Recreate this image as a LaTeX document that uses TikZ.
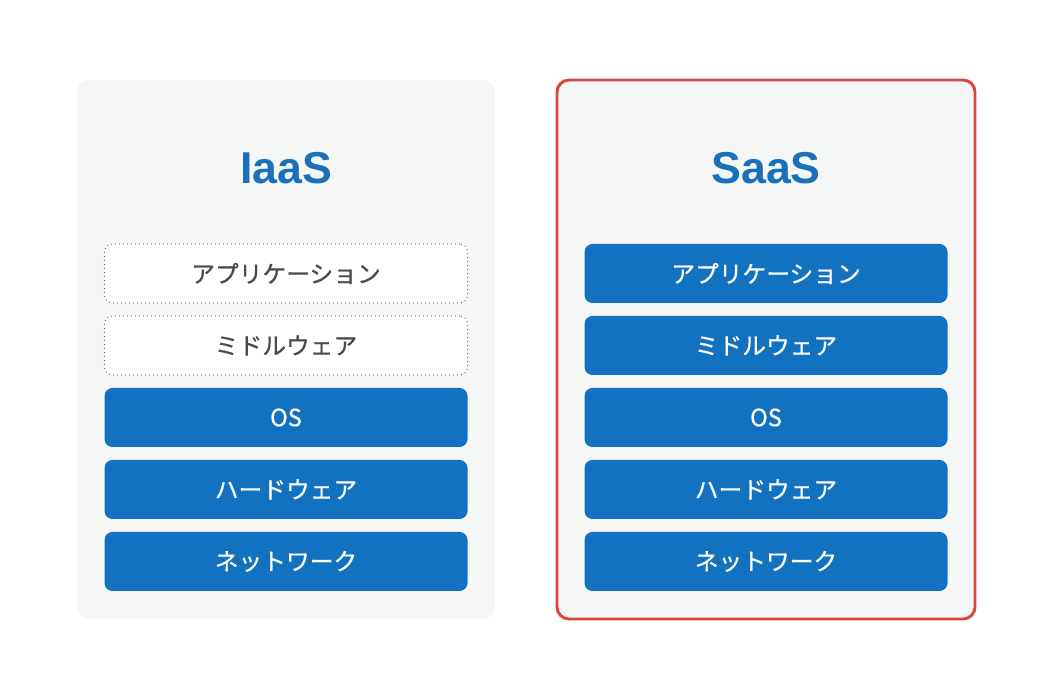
\documentclass[tikz,border=0pt]{standalone}
\usepackage{fontspec}
\setmainfont{Noto Sans}
\newfontfamily\jpfont[FakeBold=0.6]{Noto Sans CJK JP}
\newfontfamily\headfont{Liberation Sans}
\usetikzlibrary{positioning}

\definecolor{panelgray}{HTML}{F5F6F6}
\definecolor{layerblue}{HTML}{1272BF}
\definecolor{titleblue}{HTML}{1A70B9}
\definecolor{framered}{HTML}{D9473A}
\definecolor{dotgray}{HTML}{707070}
\definecolor{textgray}{HTML}{4A4A4A}

\tikzset{
  panel/.style={fill=panelgray,rounded corners=9pt,minimum width=313.5pt,minimum height=404.25pt,inner sep=0pt,outer sep=0pt},
  title/.style={text=titleblue,font=\headfont\fontsize{33.5}{40}\selectfont\bfseries},
  layer/.style={fill=layerblue,text=white,rounded corners=6pt,minimum width=272.25pt,minimum height=44.25pt,inner sep=0pt,outer sep=0pt,font=\jpfont\fontsize{17.8}{20}\selectfont},
  userlayer/.style={fill=white,draw=dotgray,line width=1pt,line cap=round,dash pattern=on 0pt off 3pt,text=textgray,rounded corners=6pt,minimum width=272.25pt,minimum height=44.25pt,inner sep=0pt,outer sep=0pt,font=\jpfont\fontsize{17.8}{20}\selectfont}
}

\begin{document}
\begin{tikzpicture}[x=0.75pt,y=0.75pt,node distance=9.75pt]
  \useasboundingbox (0,0) rectangle (1050,700);

  % IaaS
  \node[panel] (iaas) at (286,350.5) {};
  \node[title] (iaasT) at (286,532) {IaaS};
  \node[userlayer] (iaasApp) at (286,426.5) {アプリケーション};
  \node[userlayer,below=of iaasApp] (iaasMid) {ミドルウェア};
  \node[layer,below=of iaasMid] (iaasOS) {OS};
  \node[layer,below=of iaasOS] (iaasHW) {ハードウェア};
  \node[layer,below=of iaasHW] (iaasNet) {ネットワーク};

  % SaaS
  \node[panel,draw=framered,line width=2.2pt] (saas) at (766,350.5) {};
  \node[title] (saasT) at (766,532) {SaaS};
  \node[layer] (saasApp) at (766,426.5) {アプリケーション};
  \node[layer,below=of saasApp] (saasMid) {ミドルウェア};
  \node[layer,below=of saasMid] (saasOS) {OS};
  \node[layer,below=of saasOS] (saasHW) {ハードウェア};
  \node[layer,below=of saasHW] (saasNet) {ネットワーク};
\end{tikzpicture}
\end{document}
